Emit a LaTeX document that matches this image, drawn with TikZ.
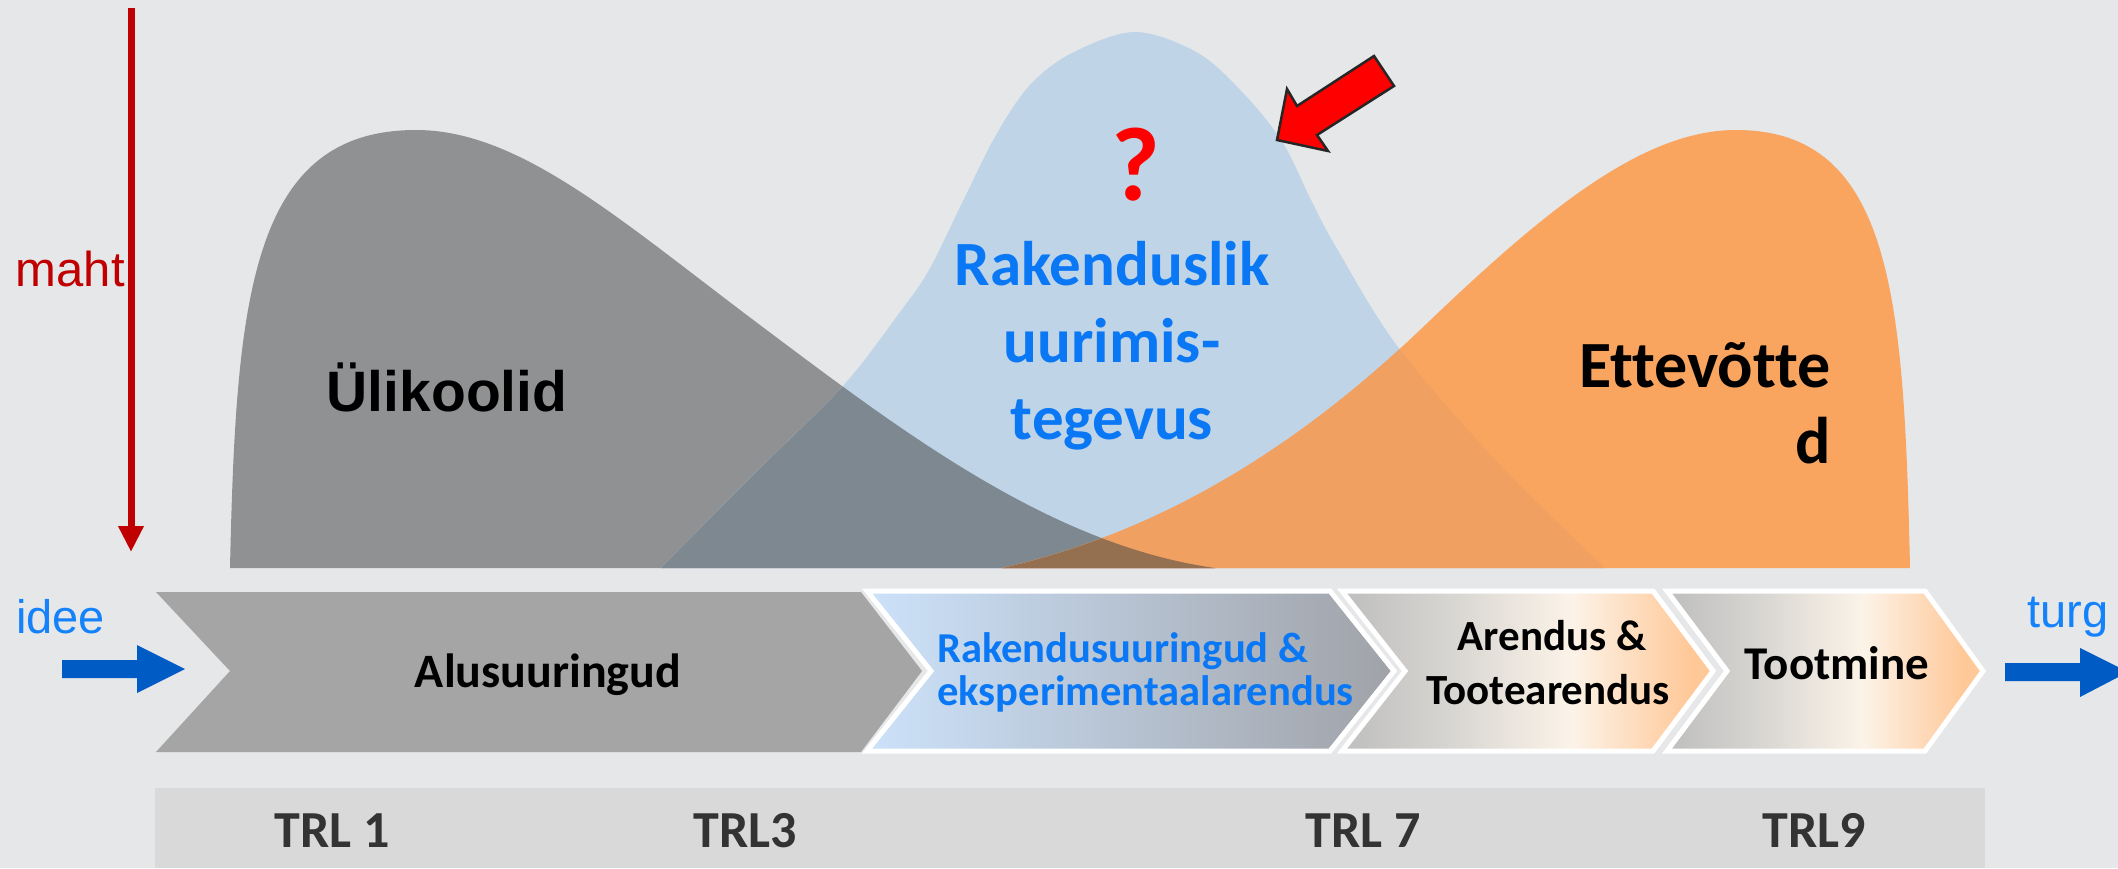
\documentclass[tikz,border=0pt]{standalone}
\usepackage{fontspec}
\setmainfont{Carlito}[Ligatures=CommonOff]
\newfontfamily\ari{Liberation Sans}
\usetikzlibrary{arrows.meta}
\definecolor{bgc}{HTML}{E6E7E9}
\definecolor{cGray}{HTML}{909193}
\definecolor{cBlue}{HTML}{C0D4E8}
\definecolor{cOr}{HTML}{F9A45F}
\definecolor{cGB}{HTML}{7E8890}
\definecolor{cBO}{HTML}{F0A060}
\definecolor{cGBO}{HTML}{957050}
\definecolor{cChev}{HTML}{A5A5A5}
\definecolor{cvL}{HTML}{CCE2FA}
\definecolor{cvR}{HTML}{A0A2A8}
\definecolor{tgA}{HTML}{BEBEBE}
\definecolor{tgB}{HTML}{D8D6D2}
\definecolor{tgW}{HTML}{FCF3E8}
\definecolor{tgO}{HTML}{FFC898}
\definecolor{txtBlue}{HTML}{0A78F5}
\definecolor{ideeBlue}{HTML}{1482FA}
\definecolor{arrBlue}{HTML}{005BC4}
\definecolor{dkRed}{HTML}{C00000}
\definecolor{trlBar}{HTML}{D9D9D9}
\definecolor{trlTxt}{HTML}{333333}
\pgfdeclarehorizontalshading{tshade}{100bp}{color(0bp)=(tgA); color(25bp)=(tgA); color(40bp)=(tgB); color(56bp)=(tgW); color(72bp)=(tgO); color(75bp)=(tgO); color(100bp)=(tgO)}
\tikzset{
  graysh/.style={insert path={(230,568) .. controls (236,300) and (250,130) .. (416,130)
     .. controls (520,130) and (620,220) .. (760,325)
     .. controls (900,430) and (1050,545) .. (1215,568) -- cycle}},
  bluesh/.style={insert path={plot[smooth,tension=0.55] coordinates {(661,568) (750,478) (842,387) (900,312) (929,270) (962,203) (996,135) (1030,85) (1072,53) (1135,32) (1198,53) (1245,95) (1283,143) (1311,200) (1336,247) (1398,347) (1500,465) (1605,568)} -- cycle}},
  orsh/.style={insert path={(1002,568) .. controls (1150,535) and (1288,456) .. (1420,330)
     .. controls (1540,215) and (1640,130) .. (1736,130)
     .. controls (1893,130) and (1904,300) .. (1910,568) -- cycle}},
  lbl/.style={anchor=base, inner sep=0pt},
  chevtxt/.style={lbl, font=\bfseries\fontsize{#1}{#1}\selectfont},
  bigtxt/.style={lbl, font=\bfseries\fontsize{#1}{#1}\selectfont},
  trl/.style={lbl, text=trlTxt, font=\bfseries\fontsize{52}{52}\selectfont},
  thinarial/.style={lbl, font=\ari\fontsize{#1}{#1}\selectfont},
  chevout/.style={draw=white, line width=5, line join=miter},
}
\begin{document}
\begin{tikzpicture}[x=1pt,y=-1pt]
\useasboundingbox (0,0) rectangle (2118,868);
\fill[bgc] (0,0) rectangle (2118,868);

% curves
\fill[cGray, graysh];
\fill[cBlue, bluesh];
\begin{scope}
  \path[clip, bluesh];
  \fill[cGB, graysh];
\end{scope}
\fill[cOr, orsh];
\begin{scope}
  \path[clip, orsh];
  \fill[cBO, bluesh];
  \path[clip, graysh];
  \fill[cGBO, bluesh];
\end{scope}

% red vertical arrow
\coordinate (mtop) at (131,8);
\coordinate (mbot) at (131,552);
\draw[dkRed, line width=7, -{Triangle[length=26pt,width=24pt]}] (mtop) -- (mbot);
\node[thinarial=49, anchor=base east, text=dkRed] (maht) at (125,286) {maht};

% red block arrow
\filldraw[fill=red, draw=black!85, line width=2.5, line join=miter]
  (1277,140) -- (1287,89) -- (1297,106) -- (1374,56) -- (1394,86) -- (1317,135) -- (1328,151) -- cycle;

% big labels
\node[lbl, font=\ari\bfseries\fontsize{57}{57}\selectfont] (uli) at (447,411) {Ülikoolid};
\node[lbl, text=red, font=\bfseries\fontsize{105}{105}\selectfont] (q) at (1136,200) {?};
\node[bigtxt=63, text=txtBlue] (rak1) at (1112,285) {Rakenduslik};
\node[bigtxt=63, text=txtBlue] (rak2) at (1112,362) {uurimis-};
\node[bigtxt=63, text=txtBlue] (rak3) at (1112,439) {tegevus};
\node[bigtxt=66, anchor=base east] (ett1) at (1831,387) {Ettevõtte};
\node[bigtxt=66, anchor=base east] (ett2) at (1831,463) {d};

% chevrons
\fill[cChev] (156,592) -- (861,592) -- (922,671) -- (861,752) -- (156,752) -- (230,671) -- cycle;
\shade[chevout, left color=cvL, right color=cvR] (867,591) -- (1330,591) -- (1394,671) -- (1330,751) -- (867,751) -- (931,671) -- cycle;
\shade[chevout, shading=tshade] (1342,591) -- (1653,591) -- (1713,671) -- (1653,751) -- (1342,751) -- (1405,671) -- cycle;
\shade[chevout, shading=tshade] (1667,591) -- (1925,591) -- (1983,671) -- (1925,751) -- (1667,751) -- (1727,671) -- cycle;

\node[chevtxt=48] (alus) at (548,687) {Alusuuringud};
\node[chevtxt=42.6, anchor=base west, text=txtBlue] (rs1) at (937,662) {Rakendusuuringud \&};
\node[chevtxt=42.6, anchor=base west, text=txtBlue] (rs2) at (937,705) {eksperimentaalarendus};
\node[chevtxt=43] (ar1) at (1552,650) {Arendus \&};
\node[chevtxt=43] (ar2) at (1548,704) {Tootearendus};
\node[chevtxt=47] (toot) at (1837,679) {Tootmine};

% blue block arrows
\fill[arrBlue] (62,660) -- (137,660) -- (137,645) -- (185,669) -- (137,693) -- (137,678) -- (62,678) -- cycle;
\fill[arrBlue] (2005,663) -- (2080,663) -- (2080,648) -- (2128,672) -- (2080,697) -- (2080,681) -- (2005,681) -- cycle;
\node[thinarial=47, anchor=base west, text=ideeBlue] (idee) at (16,633) {idee};
\node[thinarial=47, anchor=base west, text=ideeBlue] (turg) at (2027,627) {turg};

% TRL bar
\fill[trlBar] (155,788) rectangle (1985,868);
\node[trl] (t1) at (332,847) {TRL 1};
\node[trl] (t3) at (745,847) {TRL3};
\node[trl] (t7) at (1363,847) {TRL 7};
\node[trl] (t9) at (1814,847) {TRL9};
\end{tikzpicture}
\end{document}
